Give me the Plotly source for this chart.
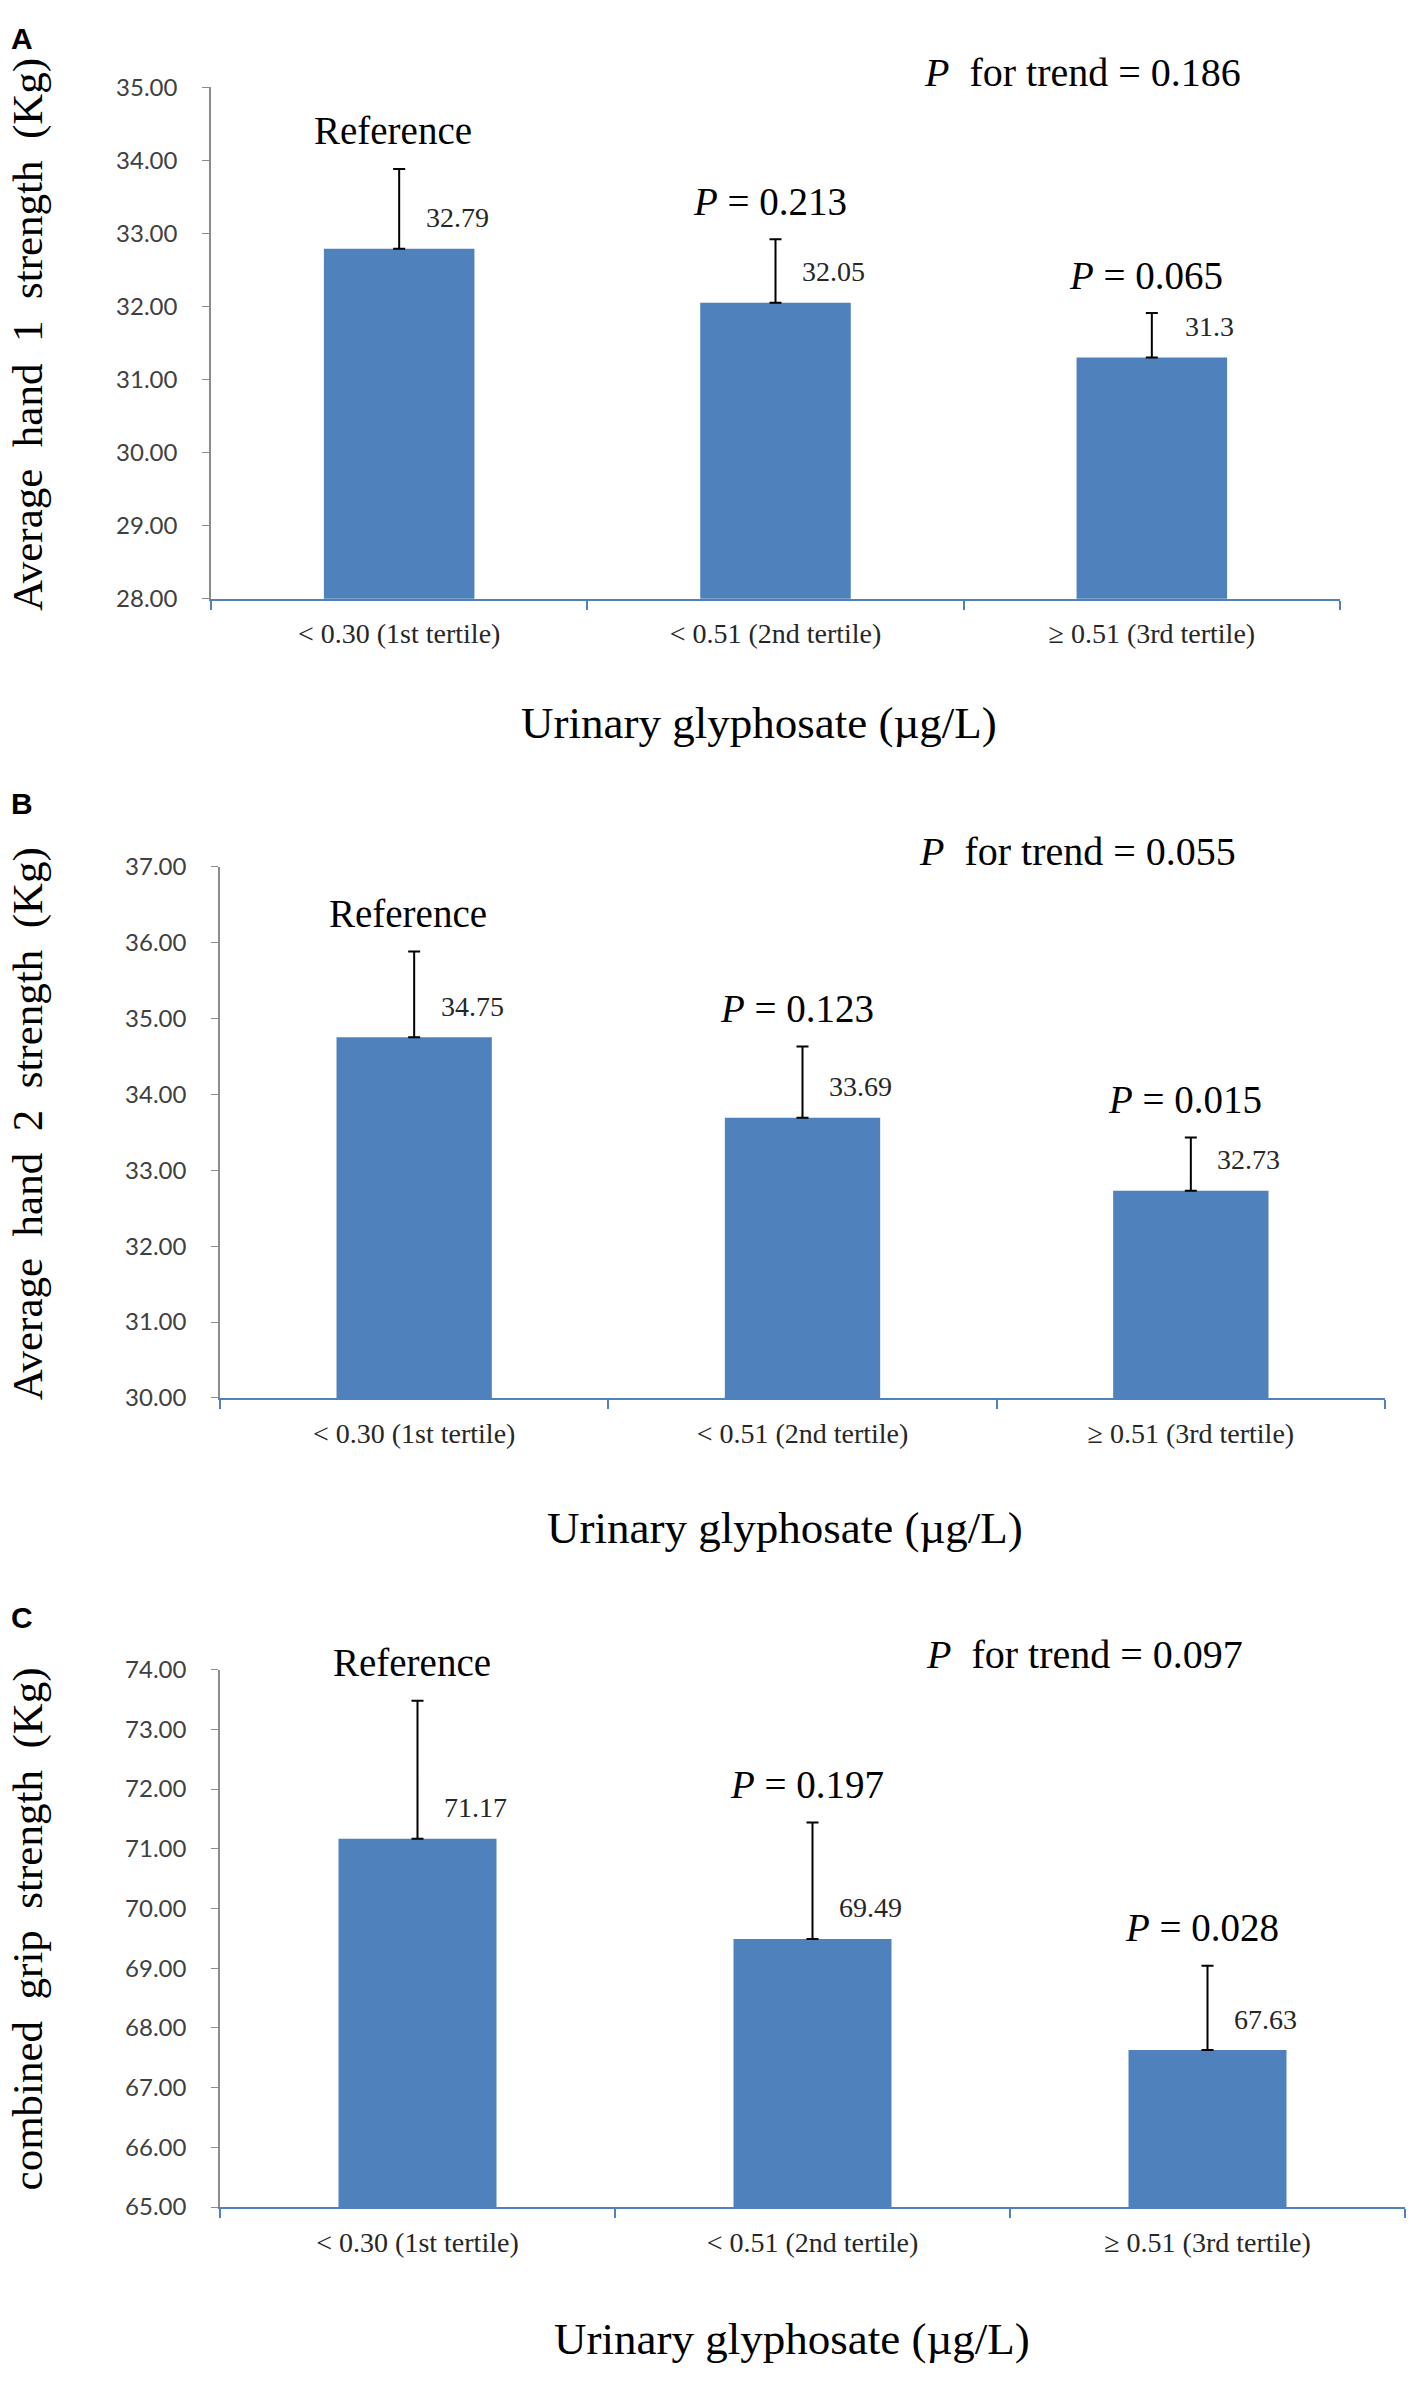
import plotly.graph_objects as go

# tertiles of urinary glyphosate
tertiles = ["< 0.30 (1st tertile)", "< 0.51 (2nd tertile)", "\u2265 0.51 (3rd tertile)"]

# panel A: average hand 1 strength
hand1_mean = [32.79, 32.05, 31.3]
hand1_err = [1.09, 0.87, 0.61]
hand1_p = ["Reference", "<i>P</i> = 0.213", "<i>P</i> = 0.065"]
hand1_trend = "0.186"

# panel B: average hand 2 strength
hand2_mean = [34.75, 33.69, 32.73]
hand2_err = [1.13, 0.94, 0.70]
hand2_p = ["Reference", "<i>P</i> = 0.123", "<i>P</i> = 0.015"]
hand2_trend = "0.055"

# panel C: combined grip strength
comb_mean = [71.17, 69.49, 67.63]
comb_err = [2.31, 1.95, 1.41]
comb_p = ["Reference", "<i>P</i> = 0.197", "<i>P</i> = 0.028"]
comb_trend = "0.097"

W, H = 1418, 2386
BLUE = "#4F81BD"
SERIF = "Liberation Serif, Times New Roman, serif"
NB = "\u00a0"

panels = [
    dict(letter="A", mean=hand1_mean, err=hand1_err, plabels=hand1_p, trend=hand1_trend,
         yrange=(28, 35), ytitle="Average hand 1 strength (Kg)",
         px=(211, 1340), py=(72, 590), letter_y=23, ytitle_y=323, xtitle_y=716, xtitle_x=759,
         trend_x=1082),
    dict(letter="B", mean=hand2_mean, err=hand2_err, plabels=hand2_p, trend=hand2_trend,
         yrange=(30, 37), ytitle="Average hand 2 strength (Kg)",
         px=(220, 1385), py=(861, 1399), letter_y=797, ytitle_y=1122, xtitle_y=1531, xtitle_x=785,
         trend_x=1077),
    dict(letter="C", mean=comb_mean, err=comb_err, plabels=comb_p, trend=comb_trend,
         yrange=(65, 74), ytitle="combined grip strength (Kg)",
         px=(220, 1405), py=(1674, 2218), letter_y=1621, ytitle_y=1937, xtitle_y=2352, xtitle_x=792,
         trend_x=1084),
]

fig = go.Figure()
annotations = []

for i, p in enumerate(panels, start=1):
    xa = "x" if i == 1 else f"x{i}"
    ya = "y" if i == 1 else f"y{i}"
    fig.add_trace(go.Bar(
        x=tertiles, y=p["mean"], marker_color=BLUE, marker_line_width=0,
        error_y=dict(type="data", symmetric=False, array=p["err"], arrayminus=[0] * len(p["err"]),
                     color="black", thickness=2, width=6),
        xaxis=xa, yaxis=ya, showlegend=False, hoverinfo="skip"))

    lay_x = "xaxis" if i == 1 else f"xaxis{i}"
    lay_y = "yaxis" if i == 1 else f"yaxis{i}"
    fig.layout[lay_x] = dict(
        domain=[p["px"][0] / W, p["px"][1] / W], anchor=ya,
        showline=True, linecolor=BLUE, linewidth=2, ticks="outside", tickson="boundaries",
        tickcolor=BLUE, ticklen=9, tickwidth=2, showgrid=False,
        tickfont=dict(family=SERIF, size=28, color="#262626"), ticklabelstandoff=9)
    fig.layout[lay_y] = dict(
        domain=[1 - p["py"][1] / H, 1 - p["py"][0] / H], anchor=xa,
        range=list(p["yrange"]), dtick=1, tickformat=".2f",
        showline=True, linecolor="#8C8C8C", linewidth=1.5, ticks="outside",
        tickcolor="#8C8C8C", ticklen=7, showgrid=False, zeroline=False,
        tickfont=dict(family="Lato, Liberation Sans, sans-serif", size=24, color="#404040"),
        ticklabelstandoff=20)

    # value labels and p-value labels above each bar
    for cat, m, e, lab in zip(tertiles, p["mean"], p["err"], p["plabels"]):
        annotations.append(dict(x=cat, y=m, xref=xa, yref=ya, text=str(m), showarrow=False,
                                xshift=58, yshift=31, font=dict(family=SERIF, size=28, color="#262626")))
        annotations.append(dict(x=cat, y=m + e, xref=xa, yref=ya, text=lab, showarrow=False,
                                xshift=-6, yshift=38, font=dict(family=SERIF, size=39, color="black")))

    annotations.append(dict(x=p["trend_x"] / W, y=1, xref="paper", yref=f"{ya} domain",
                            text=f"<i>P</i>{NB}{NB}for trend = {p['trend']}", showarrow=False,
                            xanchor="center", yanchor="middle", yshift=15,
                            font=dict(family=SERIF, size=40, color="black")))
    annotations.append(dict(x=22 / W, y=1 - p["letter_y"] / H, xref="paper", yref="paper",
                            text=f"<b>{p['letter']}</b>", showarrow=False,
                            xanchor="center", yanchor="middle",
                            font=dict(family="Liberation Sans, Arial, sans-serif", size=30, color="black")))
    annotations.append(dict(x=28 / W, y=1 - p["ytitle_y"] / H, xref="paper", yref="paper",
                            text=p["ytitle"].replace(" ", NB * 2), textangle=-90, showarrow=False,
                            xanchor="center", yanchor="middle",
                            font=dict(family=SERIF, size=43, color="black")))
    annotations.append(dict(x=p["xtitle_x"] / W, y=1 - p["xtitle_y"] / H, xref="paper", yref="paper",
                            text="Urinary glyphosate (\u00b5g/L)", showarrow=False,
                            xanchor="center", yanchor="middle",
                            font=dict(family=SERIF, size=45, color="black")))

fig.update_layout(
    width=W, height=H, margin=dict(l=0, r=0, t=0, b=0),
    paper_bgcolor="white", plot_bgcolor="white",
    bargap=0.6, annotations=annotations)

fig.write_html("out.html", config={"displayModeBar": False},
               post_script="document.body.style.margin='0';")
